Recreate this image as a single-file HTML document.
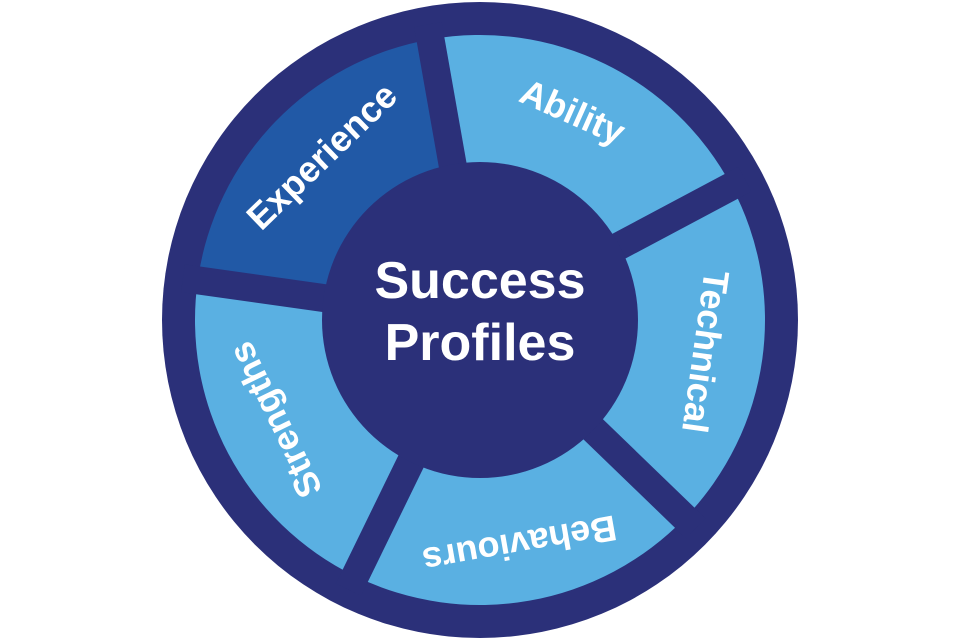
<!DOCTYPE html>
<html><head><meta charset="utf-8"><style>
html,body{margin:0;padding:0;background:#fff;width:960px;height:640px;overflow:hidden}
svg{display:block}
text{font-family:"Liberation Sans",sans-serif;font-weight:bold;fill:#fff}
</style></head><body>
<svg width="960" height="640" viewBox="0 0 960 640" xmlns="http://www.w3.org/2000/svg">
<circle cx="480" cy="320" r="318" fill="#2b3079"/>
<g id="segs"></g>
<script>
(function(){
var cx=480,cy=320,ro=285,ri=140;
var g=document.getElementById('segs');
var ns='http://www.w3.org/2000/svg';
function pt(r,a){var t=a*Math.PI/180;return [cx+r*Math.sin(t),cy-r*Math.cos(t)];}
var segs=[[26,'#5ab0e2'],[98,'#5ab0e2'],[170,'#5ab0e2'],[242,'#5ab0e2'],[314,'#2159a6']];
segs.forEach(function(s){
 var a0=s[0]-36,a1=s[0]+36;
 var p1=pt(ro,a0),p2=pt(ro,a1),p3=pt(ri,a1),p4=pt(ri,a0);
 var p=document.createElementNS(ns,'path');
 p.setAttribute('d','M'+p1+' A'+ro+' '+ro+' 0 0 1 '+p2+' L'+p3+' A'+ri+' '+ri+' 0 0 0 '+p4+'Z');
 p.setAttribute('fill',s[1]);g.appendChild(p);
});
[-10,62,134,206,278].forEach(function(a){
 var e=pt(300,a);
 var l=document.createElementNS(ns,'line');
 l.setAttribute('x1',cx);l.setAttribute('y1',cy);l.setAttribute('x2',e[0]);l.setAttribute('y2',e[1]);
 l.setAttribute('stroke','#2b3079');l.setAttribute('stroke-width','28');g.appendChild(l);
});
})();
</script>
<circle cx="480" cy="320" r="158" fill="#2b3079"/>
<g font-size="36">
<text x="480" y="92" text-anchor="middle" dominant-baseline="central" transform="rotate(24 480 320)">Ability</text>
<text x="480" y="92" text-anchor="middle" dominant-baseline="central" transform="rotate(98 480 320)">Technical</text>
<text x="480" y="92" text-anchor="middle" dominant-baseline="central" transform="rotate(170 480 320)">Behaviours</text>
<text x="480" y="92" text-anchor="middle" dominant-baseline="central" transform="rotate(244 480 320)">Strengths</text>
<text x="480" y="92" text-anchor="middle" dominant-baseline="central" transform="rotate(316 480 320)">Experience</text>
</g>
<text x="480" y="298" text-anchor="middle" font-size="52">Success</text>
<text x="480" y="360" text-anchor="middle" font-size="52">Profiles</text>
</svg>
</body></html>
